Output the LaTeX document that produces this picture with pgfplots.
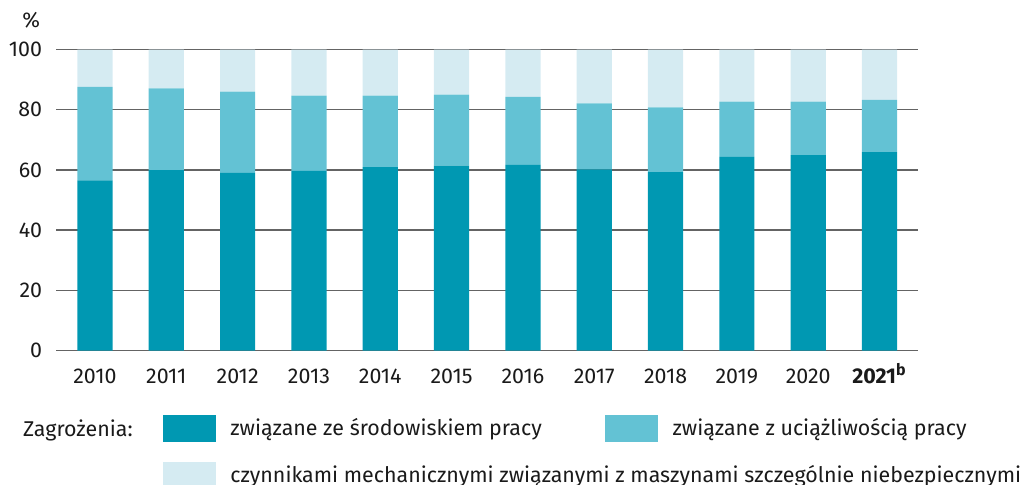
\documentclass[border=0pt]{standalone}
\usepackage{pgfplots}
\pgfplotsset{compat=1.18}
\usepackage{pgfplotstable}
\usepackage{fontspec}
\setmainfont{Fira Sans}
\definecolor{cdark}{RGB}{0,152,178}
\definecolor{cmid}{RGB}{99,194,212}
\definecolor{clight}{RGB}{213,235,242}
\definecolor{cgrid}{RGB}{100,100,100}
\definecolor{ctext}{RGB}{26,26,26}
\pgfplotstableread{
x s1 s2 s3
0 56.5 31.1 12.4
1 59.9 27.2 12.9
2 59.0 27.0 14.0
3 59.7 25.0 15.3
4 60.9 23.8 15.3
5 61.4 23.6 15.0
6 61.7 22.6 15.7
7 60.2 21.9 17.9
8 59.3 21.5 19.2
9 64.3 18.4 17.3
10 64.9 17.8 17.3
11 65.9 17.4 16.7
}\datatable
\pgfplotsset{mylegend/.style={legend image code/.code={\fill[##1] (0pt,-6.75pt) rectangle (26.5pt,6.75pt);}}}
\begin{document}
\begin{tikzpicture}[font=\fontsize{10.7}{12.8}\selectfont, text=ctext]
\useasboundingbox (0,0) rectangle (512pt,242pt);
\begin{axis}[
  at={(28.25pt,66.75pt)}, anchor=south west,
  scale only axis, width=430.75pt, height=150.5pt,
  ybar stacked, bar width=17.6pt,
  xmin=-0.54, xmax=11.54, ymin=0, ymax=100,
  xtick={0,...,11},
  xticklabels={2010,2011,2012,2013,2014,2015,2016,2017,2018,2019,2020,{\textbf{2021}\textsuperscript{\textbf{\fontsize{8}{9}\selectfont b}}}},
  ytick={0,20,...,100},
  ymajorgrids, major grid style={cgrid, line width=0.75pt},
  axis line style={draw=none},
  major tick length=0pt,
  tick style={draw=none},
  /pgf/number format/assume math mode=true,
  xticklabel style={inner sep=0pt, anchor=north, text height=7.4pt, yshift=-9pt, text=ctext},
  yticklabel style={inner sep=0pt, anchor=east, xshift=-7pt, text=ctext},
  legend columns=2,
  legend cell align=left,
  legend style={at={(0.1233,-0.2143)}, anchor=north west, draw=none, fill=none,
    inner sep=0pt, outer sep=0pt, column sep=0pt, row sep=10pt,
    nodes={inner sep=0pt, text=ctext}},
]
\addplot[fill=cdark, draw=none, mylegend] table[x=x, y=s1] {\datatable};
\addplot[fill=cmid, draw=none, mylegend] table[x=x, y=s2] {\datatable};
\addplot[fill=clight, draw=none, mylegend] table[x=x, y=s3] {\datatable};
\addlegendentry{\hspace*{7.3pt}\makebox[187.35pt][l]{związane ze środowiskiem pracy}}
\addlegendentry{\hspace*{7.3pt}związane z uciążliwością pracy}
\addlegendentry{\hspace*{7.3pt}\makebox[187.35pt][l]{czynnikami mechanicznymi związanymi z maszynami szczególnie niebezpiecznymi}}
\end{axis}
\node[anchor=center, inner sep=0pt] at (15.65pt,232pt) {\%};
\node[anchor=base west, inner sep=0pt] at (11.35pt,23.65pt) {Zagrożenia:};
\end{tikzpicture}
\end{document}
